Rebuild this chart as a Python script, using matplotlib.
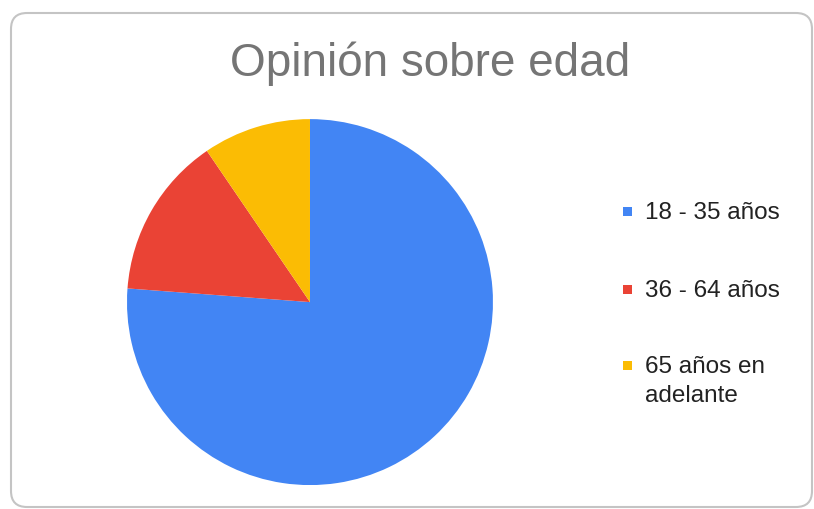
import matplotlib.pyplot as plt
from matplotlib.patches import FancyBboxPatch, Rectangle
from matplotlib.transforms import IdentityTransform

plt.rcParams['font.family'] = ['Liberation Sans', 'DejaVu Sans']

title = 'Opinión sobre edad'
labels = ['18 - 35 años', '36 - 64 años', '65 años en\nadelante']
values = [16, 3, 2]
colors = ['#4285F4', '#EA4335', '#FBBC04']

W, H = 814, 509
fig = plt.figure(figsize=(W / 100, H / 100), dpi=100)

# rounded card border, in pixels
card = FancyBboxPatch((11, 2), 801, 494, boxstyle='round,pad=0,rounding_size=16',
                      transform=IdentityTransform(), facecolor='white',
                      edgecolor='#c4c4c4', linewidth=1.5, zorder=-1)
fig.patches.append(card)

ax = fig.add_axes([0.156, 0.047, 0.4496, 0.719])
ax.pie(values, colors=colors, startangle=90, counterclock=False, radius=1,
       wedgeprops=dict(linewidth=0))
ax.set_xlim(-1, 1)
ax.set_ylim(-1, 1)
ax.set_aspect('equal')
ax.axis('off')

fig.text(430 / W, 1 - 76 / H, title, ha='center', va='baseline', fontsize=33,
         color='#757575')

# legend: baseline of each entry in pixels from the top
baselines = [219, 297, 373]
line_gap = 29
for lab, c, b in zip(labels, colors, baselines):
    fig.patches.append(Rectangle((623, H - b + 3), 9, 9, transform=IdentityTransform(),
                                 facecolor=c, edgecolor='none'))
    for i, line in enumerate(lab.split('\n')):
        fig.text(645 / W, 1 - (b + i * line_gap) / H, line, ha='left', va='baseline',
                 fontsize=17.5, color='#222222')

fig.savefig('out.png', dpi=100)
